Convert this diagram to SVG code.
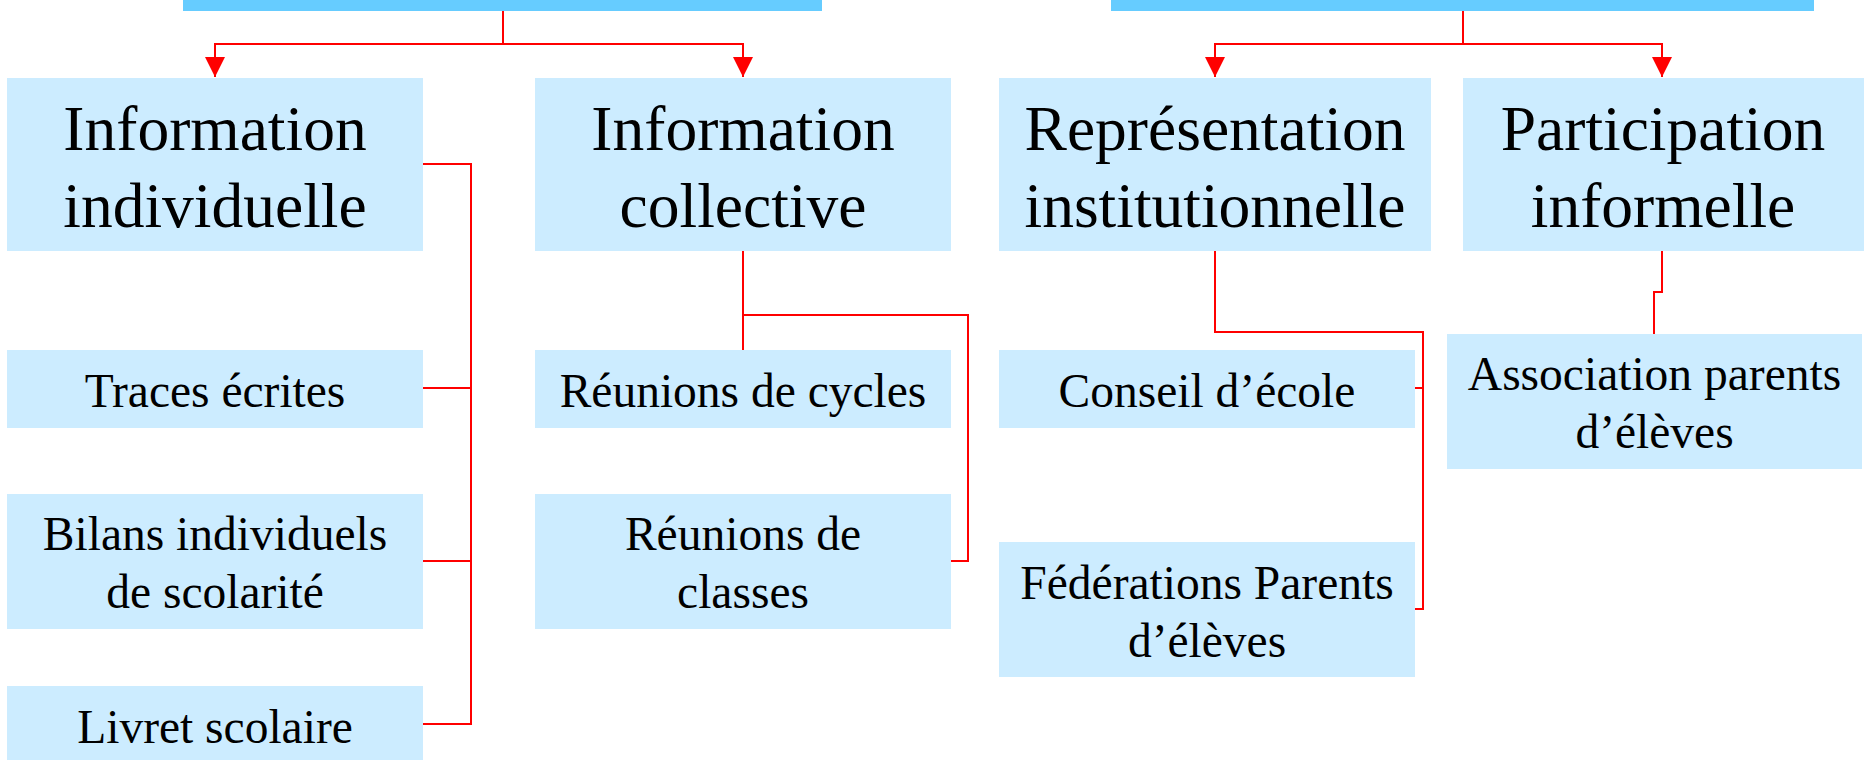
<svg xmlns="http://www.w3.org/2000/svg" width="1865" height="760" viewBox="0 0 1865 760">
<style>
.bar{fill:#66CCFF}
.box{fill:#CCECFF}
.t{font-family:"Liberation Serif","Times New Roman",serif;fill:#000;text-anchor:middle}
.big{font-size:63.5px}
.sm{font-size:47.5px}
.c{fill:none;stroke:#FF0000;stroke-width:2}
</style>
<defs>
<marker id="arr" viewBox="0 0 20 20" refX="20" refY="10" markerWidth="20" markerHeight="20" markerUnits="userSpaceOnUse" orient="auto">
<path d="M0,0 L20,10 L0,20 z" fill="#FF0000"/>
</marker>
</defs>
<g id="bar-left"><rect class="bar" x="183" y="0" width="639" height="11"/></g>
<g id="bar-right"><rect class="bar" x="1111" y="0" width="703" height="11"/></g>
<g id="info-indiv"><rect class="box" x="7" y="78" width="416" height="173"/><text class="t big" x="215" y="150">Information</text><text class="t big" x="215" y="227">individuelle</text></g>
<g id="info-coll"><rect class="box" x="535" y="78" width="416" height="173"/><text class="t big" x="743" y="150">Information</text><text class="t big" x="743" y="227">collective</text></g>
<g id="repr-inst"><rect class="box" x="999" y="78" width="432" height="173"/><text class="t big" x="1215" y="150">Représentation</text><text class="t big" x="1215" y="227">institutionnelle</text></g>
<g id="part-inf"><rect class="box" x="1463" y="78" width="401" height="173"/><text class="t big" x="1663" y="150">Participation</text><text class="t big" x="1663" y="227">informelle</text></g>
<g id="traces"><rect class="box" x="7" y="350" width="416" height="78"/><text class="t sm" x="215" y="407">Traces écrites</text></g>
<g id="bilans"><rect class="box" x="7" y="494" width="416" height="135"/><text class="t sm" x="215" y="550">Bilans individuels</text><text class="t sm" x="215" y="608">de scolarité</text></g>
<g id="livret"><rect class="box" x="7" y="686" width="416" height="74"/><text class="t sm" x="215" y="743">Livret scolaire</text></g>
<g id="reu-cycles"><rect class="box" x="535" y="350" width="416" height="78"/><text class="t sm" x="743" y="407">Réunions de cycles</text></g>
<g id="reu-classes"><rect class="box" x="535" y="494" width="416" height="135"/><text class="t sm" x="743" y="550">Réunions de</text><text class="t sm" x="743" y="608">classes</text></g>
<g id="conseil"><rect class="box" x="999" y="350" width="416" height="78"/><text class="t sm" x="1207" y="407">Conseil d’école</text></g>
<g id="federations"><rect class="box" x="999" y="542" width="416" height="135"/><text class="t sm" x="1207" y="599">Fédérations Parents</text><text class="t sm" x="1207" y="657">d’élèves</text></g>
<g id="association"><rect class="box" x="1447" y="334" width="415" height="135"/><text class="t sm" x="1654.5" y="390">Association parents</text><text class="t sm" x="1654.5" y="448">d’élèves</text></g>
<g id="connectors">
<path class="c" d="M503,11 V44 H215 V77" marker-end="url(#arr)"/>
<path class="c" d="M503,44 H743 V77" marker-end="url(#arr)"/>
<path class="c" d="M1463,11 V44 H1215 V77" marker-end="url(#arr)"/>
<path class="c" d="M1463,44 H1662 V77" marker-end="url(#arr)"/>
<path class="c" d="M423,164 H471 V724 H423 M423,388 H471 M423,561 H471"/>
<path class="c" d="M743,251 V350 M743,315 H968 V561 H951"/>
<path class="c" d="M1215,251 V332 H1423 V609 H1415 M1415,388 H1423"/>
<path class="c" d="M1662,251 V292 H1654 V334"/>
</g>
</svg>
